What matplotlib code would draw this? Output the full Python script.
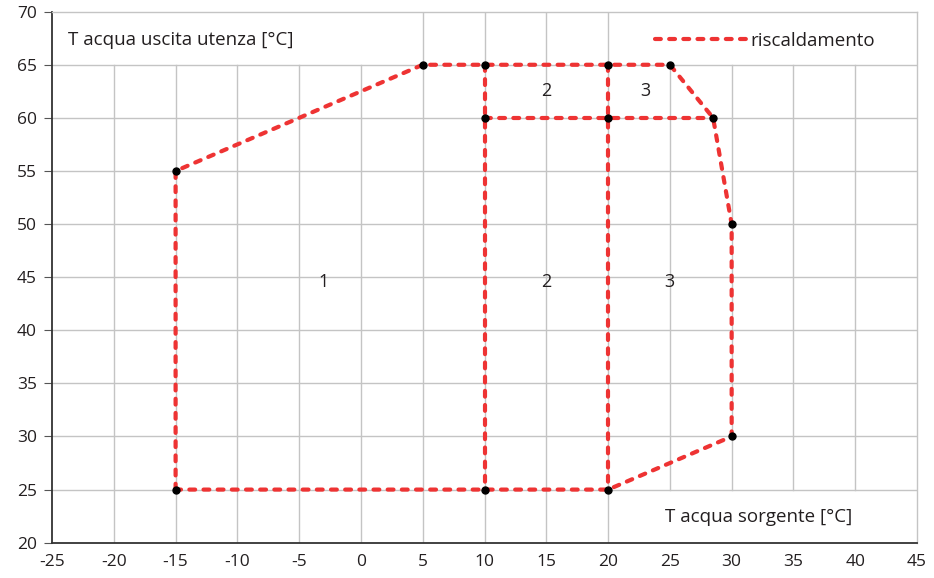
import matplotlib.pyplot as plt

plt.rcParams['font.family'] = ['Open Sans', 'DejaVu Sans']
plt.rcParams['axes.unicode_minus'] = False

# contorno del campo di funzionamento (riscaldamento)
env_x = [-15, -15, 5, 25, 28.5, 30, 30, 20, -15]
env_y = [25, 55, 65, 65, 60, 50, 30, 25, 25]
# linee interne che separano le zone
div1_x = [10, 10]
div1_y = [65, 25]
div2_x = [20, 20]
div2_y = [65, 25]
div3_x = [10, 28.5]
div3_y = [60, 60]
# punti marcati
pt_x = [-15, -15, 5, 10, 20, 25, 28.5, 30, 30, 20, 10, 10, 20]
pt_y = [25, 55, 65, 65, 65, 65, 60, 50, 30, 25, 25, 60, 60]
# etichette delle zone
zone_lab = ["1", "2", "3", "2", "3"]
zone_x = [-3, 15, 25, 15, 23]
zone_y = [44.5, 44.5, 44.5, 62.5, 62.5]

xticks = list(range(-25, 50, 5))
yticks = list(range(20, 75, 5))

fig = plt.figure(figsize=(9.34, 5.78), dpi=100)
ax = fig.add_axes([0.0557, 0.0611, 0.9261, 0.9187])
txt = '#231f20'
red = '#ee3333'
gcol = '#c4c4c4'

ax.set_xlim(-25, 45)
ax.set_ylim(20, 70)
ax.set_xticks(xticks)
ax.set_yticks(yticks)

# griglia disegnata a mano: i titoli hanno sfondo bianco che la copre
for y in yticks[1:-1]:
    ax.axhline(y, color=gcol, lw=1, zorder=0.5)
for x in xticks[1:-1]:
    top = 70 if 2.5 < x <= 20 else 65
    bot = 25 if x > 20 else 20
    ax.plot([x, x], [bot, top], color=gcol, lw=1, zorder=0.5)

dash = (0, (1.4, 2.0))
kw = dict(color=red, lw=3, linestyle=dash, dash_capstyle='round', zorder=3)
ax.plot(env_x, env_y, label='riscaldamento', **kw)
for xs, ys in [(div1_x, div1_y), (div2_x, div2_y), (div3_x, div3_y)]:
    ax.plot(xs, ys, **kw)
ax.plot(pt_x, pt_y, 'o', color='black', ms=5, zorder=4)

for l, x, y in zip(zone_lab, zone_x, zone_y):
    ax.text(x, y, l, ha='center', va='center', fontsize=13, color=txt, zorder=5)

ax.text(-23.7, 67.3, "T acqua uscita utenza [°C]", ha='left', va='center', fontsize=13.5, color=txt, zorder=5)
ax.text(32.2, 22.4, "T acqua sorgente [°C]", ha='center', va='center', fontsize=13.5, color=txt, zorder=5)

ax.legend(loc='center right', bbox_to_anchor=(0.952, 0.945), frameon=False, fontsize=13.5,
          handlelength=4.9, handletextpad=0.2, labelcolor=txt, borderpad=0, borderaxespad=0)

for s in ['left', 'bottom']:
    ax.spines[s].set_color('#333333')
    ax.spines[s].set_linewidth(1.3)
    ax.spines[s].set_zorder(6)
for s in ['top', 'right']:
    ax.spines[s].set_color(gcol)
    ax.spines[s].set_linewidth(1)
    ax.spines[s].set_zorder(6)
ax.tick_params(axis='y', length=6, color='#555555', labelsize=12.5, labelcolor=txt, pad=5)
ax.tick_params(axis='x', length=0, labelsize=12.5, labelcolor=txt, pad=8)

plt.savefig("out.png", dpi=100)
